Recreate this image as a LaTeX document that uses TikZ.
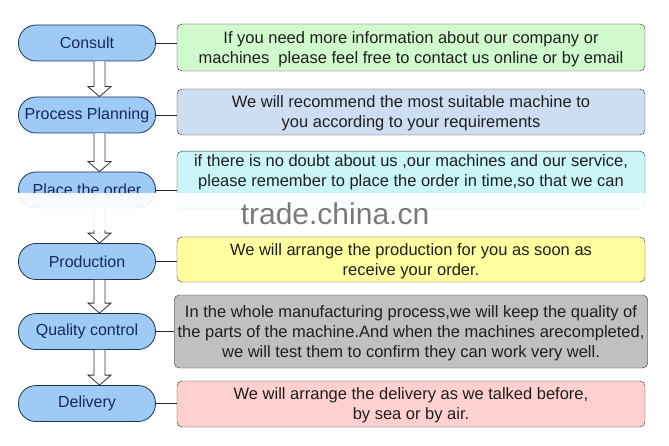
\documentclass[tikz,border=0pt]{standalone}
\usepackage{fontspec}
\setmainfont{Liberation Sans}
\usetikzlibrary{calc}

\definecolor{pillfill}{RGB}{157,203,245}
\definecolor{pilledge}{RGB}{30,50,85}
\definecolor{pilltext}{RGB}{25,40,90}
\definecolor{greenbox}{RGB}{208,250,205}
\definecolor{bluebox}{RGB}{206,222,242}
\definecolor{cyanbox}{RGB}{202,246,250}
\definecolor{yellowbox}{RGB}{255,255,160}
\definecolor{graybox}{RGB}{192,192,192}
\definecolor{pinkbox}{RGB}{255,208,208}

% hollow block arrow from one stage to the next
\newcommand{\flowarrow}[2]{%
  \draw[hollow] ($(#1.south)+(7,0)$) -- ($(#2.north)+(7,10)$) -- ($(#2.north)+(1,10)$)
    -- ($(#2.north)+(12.5,0)$) -- ($(#2.north)+(24,10)$) -- ($(#2.north)+(18,10)$)
    -- ($(#1.south)+(18,0)$);}

\begin{document}
\begin{tikzpicture}
  [x=1pt,y=1pt,
   stage/.style={draw=pilledge,fill=pillfill,text=pilltext,thick,rounded corners=17.5pt,
     minimum width=137pt,minimum height=36pt,inner sep=0pt,font=\fontsize{16}{20}\selectfont},
   info/.style={draw=black!80,rounded corners=5pt,minimum width=468pt,align=center,
     text=black!88,inner ysep=3pt,text depth=0pt,font=\fontsize{16.5}{20}\selectfont},
   hollow/.style={draw=black!80,fill=white,line width=0.8pt},
   link/.style={draw=black!85,line width=0.7pt}]
  \useasboundingbox (0,0) rectangle (669,445);

  \node[stage] (s1) at (87,402) {Consult};
  \node[stage] (s2) at (87,330) {Process Planning};
  \node[stage] (s3) at (87,255) {Place the order};
  \node[stage] (s4) at (87,183.5) {Production};
  \node[stage] (s5) at (87,113.5) {Quality control};
  \node[stage] (s6) at (87,41.5) {Delivery};

  \node[info,fill=greenbox,minimum height=47pt] (t1) at (411,397.5)
    {If you need more information about our company or\\machines\ \ please feel free to contact us online or by email};
  \node[info,fill=bluebox,minimum height=46pt] (t2) at (411,333)
    {We will recommend the most suitable machine to\\you according to your requirements};
  \node[info,fill=cyanbox,anchor=north] (t3) at (411,294)
    {if there is no doubt about us ,our machines and our service,\\please remember to place the order in time,so that we can\\ \strut};
  \node[info,fill=yellowbox,minimum height=45pt] (t4) at (411,185.5)
    {We will arrange the production for you as soon as\\receive your order.};
  \node[info,fill=graybox,minimum height=73pt] (t5) at (411,113.5)
    {In the whole manufacturing process,we will keep the quality of\\the parts of the machine.And when the machines arecompleted,\\we will test them to confirm they can work very well.};
  \node[info,fill=pinkbox,minimum height=46pt] (t6) at (411,41)
    {We will arrange the delivery as we talked before,\\by sea or by air.};

  \foreach \i in {1,...,6}
    \draw[link] (s\i.east) -- (s\i.east -| t\i.west);

  \flowarrow{s1}{s2}
  \flowarrow{s2}{s3}
  \flowarrow{s3}{s4}
  \flowarrow{s4}{s5}
  \flowarrow{s5}{s6}

  % watermark band
  \fill[white,opacity=0.92] (0,215) rectangle (669,252);
  \node[text=black!52,font=\fontsize{30}{30}\selectfont] (wm) at (335,231) {trade.china.cn};
\end{tikzpicture}
\end{document}
